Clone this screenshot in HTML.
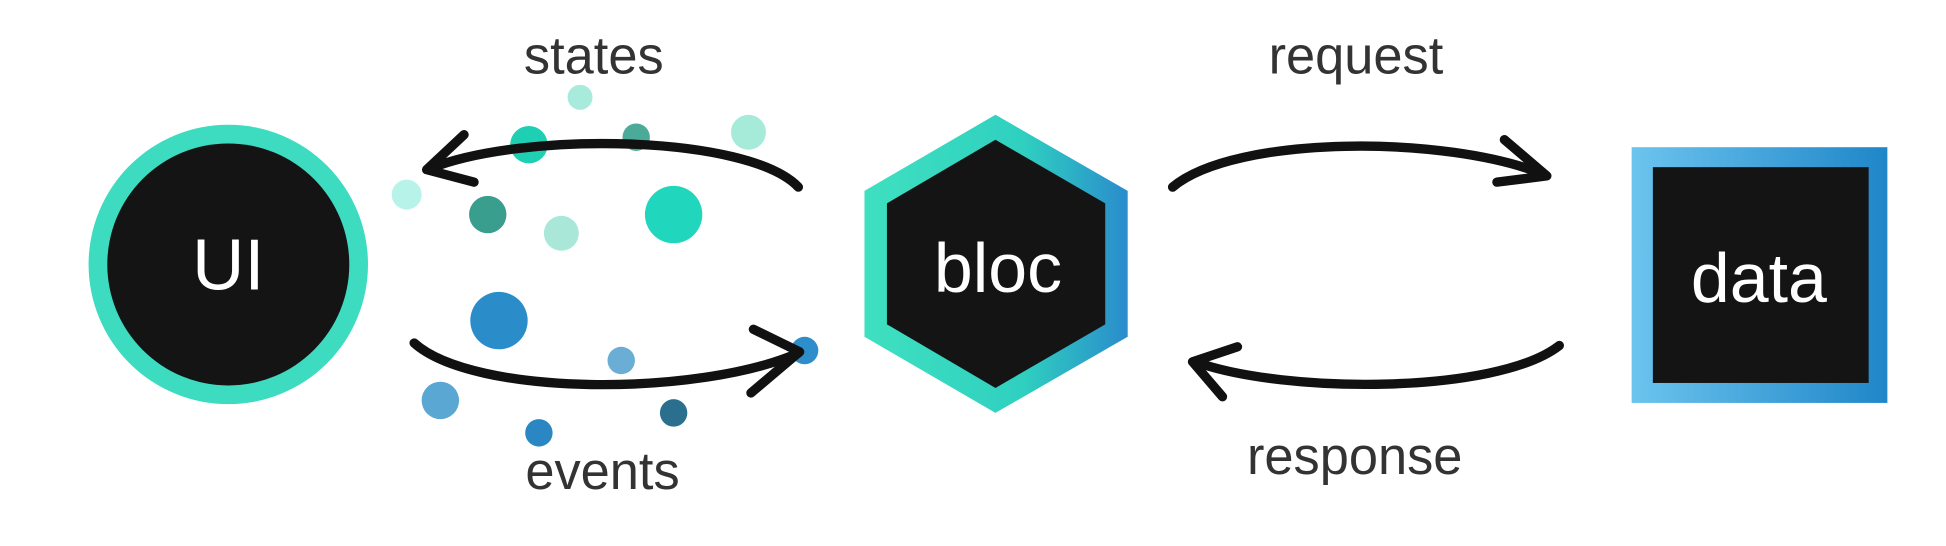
<!DOCTYPE html>
<html><head><meta charset="utf-8"><style>
html,body{margin:0;padding:0;background:#fff;}
svg{display:block;}
text{font-family:"Liberation Sans",sans-serif;}
</style></head><body>
<svg width="1946" height="546" viewBox="0 0 1560 437.7" xmlns="http://www.w3.org/2000/svg">
<defs>
<linearGradient id="hx" x1="0" y1="0" x2="1" y2="0">
<stop offset="0" stop-color="#3fe0c0"/><stop offset="0.6" stop-color="#2fd0c0"/><stop offset="1" stop-color="#2a8ccc"/></linearGradient>
<linearGradient id="sq" x1="0" y1="0" x2="1" y2="0">
<stop offset="0" stop-color="#6cc4ee"/><stop offset="1" stop-color="#1f86c8"/></linearGradient>
</defs>
<rect width="1560" height="437.7" fill="#fff"/>
<g>
<circle cx="465" cy="78" r="10" fill="#a8eadb"/>
<circle cx="424" cy="116" r="15" fill="#1fcfb4"/>
<circle cx="510" cy="110" r="11" fill="#4caa98"/>
<circle cx="600" cy="106" r="14" fill="#a6ead9"/>
<circle cx="326" cy="156" r="12" fill="#b8f3ea"/>
<circle cx="391" cy="172" r="15" fill="#3a9e8e"/>
<circle cx="450" cy="187" r="14" fill="#a9e8d9"/>
<circle cx="540" cy="172" r="23" fill="#20d6bc"/>
<circle cx="400" cy="257" r="23" fill="#2a8cc9"/>
<circle cx="498" cy="289" r="11" fill="#6aaed5"/>
<circle cx="645" cy="281" r="11" fill="#2d8ecb"/>
<circle cx="353" cy="321" r="15" fill="#5aa7d3"/>
<circle cx="432" cy="347" r="11" fill="#2a87c4"/>
<circle cx="540" cy="331" r="11" fill="#2b6f8f"/>
</g>
<circle cx="183" cy="212" r="112" fill="#3ddcc0"/>
<circle cx="183" cy="212" r="97" fill="#141414"/>
<text x="183" y="232" font-size="58" fill="#fff" text-anchor="middle">UI</text>
<polygon points="798,92 904,153 904,270 798,331 693,270 693,153" fill="url(#hx)"/>
<polygon points="798,112 886,163 886,260 798,311 711,260 711,163" fill="#141414"/>
<text x="800" y="234" font-size="56" fill="#fff" text-anchor="middle">bloc</text>
<rect x="1308" y="118" width="205" height="205" fill="url(#sq)"/>
<rect x="1325" y="134" width="173" height="173" fill="#141414"/>
<text x="1410" y="242" font-size="56" fill="#fff" text-anchor="middle">data</text>
<g fill="none" stroke="#111" stroke-width="7.5" stroke-linecap="round" stroke-linejoin="round">
<path d="M640,150 C600,108 420,105 345,135"/>
<path d="M372,108 L342,136 L380,146"/>
<path d="M332,275 C380,318 560,318 640,283"/>
<path d="M604,264 L641,282 L602,315"/>
<path d="M940,150 C990,108 1160,108 1238,140"/>
<path d="M1206,112 L1240,141 L1200,146"/>
<path d="M1250,277 C1200,316 1030,316 958,290"/>
<path d="M992,278 L956,290 L980,318"/>
</g>
<g font-size="42" fill="#333" text-anchor="middle">
<text x="476" y="59">states</text>
<text x="483" y="392">events</text>
<text x="1087" y="59">request</text>
<text x="1086" y="380">response</text>
</g>
</svg>
</body></html>
